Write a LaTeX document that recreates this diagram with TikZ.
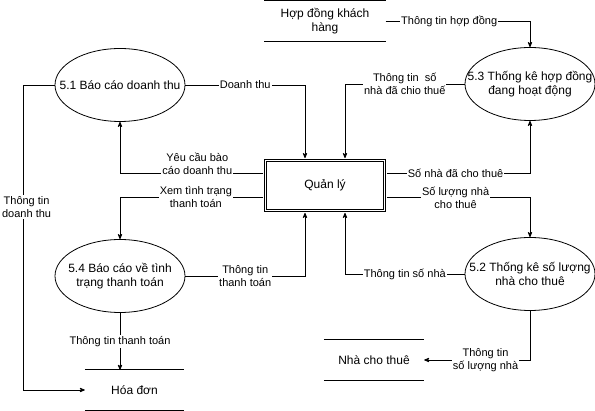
\documentclass[tikz,border=0pt]{standalone}
\usepackage{fontspec}
\setmainfont{Liberation Sans}
\usetikzlibrary{arrows,shapes.geometric}
\tikzstyle{proc} = [draw, thick, ellipse, minimum width=130pt, minimum height=73pt, inner sep=0pt]
\tikzstyle{ptext} = [align=center, font=\fontsize{12}{14}\selectfont]
\tikzstyle{store} = [minimum height=40pt, align=center, font=\fontsize{12}{14}\selectfont]
\tikzstyle{mgr} = [draw, thick, double, double distance=1.6pt, outer sep=2.4pt,
    minimum width=119pt, minimum height=50pt, font=\fontsize{12}{14}\selectfont]
\tikzstyle{lbl} = [fill=white, inner sep=1pt, align=center, font=\fontsize{11}{13}\selectfont]

\begin{document}
\begin{tikzpicture}[x=1pt, y=-1pt, >=stealth']
    \useasboundingbox (0,0) rectangle (595,411);
    \node [mgr] (qly) at (325,185.5) {Quản lý};
    \node [proc, label={[ptext]center:5.1 Báo cáo doanh thu}] (p51) at (120,85) {};
    \node [proc, below of=p51, node distance=191pt,
            label={[ptext]center:5.4 Báo cáo về tình\\trạng thanh toán}] (p54) {};
    \node [proc, label={[ptext]center:5.3 Thống kê hợp đồng\\đang hoạt động}] (p53) at (530,84) {};
    \node [proc, below of=p53, node distance=190pt,
            label={[ptext]center:5.2 Thống kê số lượng\\nhà cho thuê}] (p52) {};
    \node [store, minimum width=121pt] (hopdong) at (325,21) {Hợp đồng khách\\hàng};
    \node [store, minimum width=99pt] (hoadon) at (134.5,390) {Hóa đơn};
    \node [store, minimum width=100pt] (nhathue) at (374,360) {Nhà cho thuê};
    \foreach \s in {hopdong,hoadon,nhathue} {
        \draw [thick] (\s.north west) -- (\s.north east);
        \draw [thick] (\s.south west) -- (\s.south east);
    }
    \draw [->,thick] (p51.east) -| node [lbl,pos=0.25] {Doanh thu} ([xshift=-20pt]qly.north);
    \draw [->,thick] (p53.west) -| node [lbl,pos=0.25] {Thông tin\ \ số\\nhà đã chio thuế} ([xshift=20pt]qly.north);
    \draw [->,thick] ([yshift=12pt]qly.west) -| node [lbl,pos=0.23,yshift=10pt] {Yêu cầu bào\\cáo doanh thu} (p51.south);
    \draw [->,thick] ([yshift=-12pt]qly.west) -| node [lbl,pos=0.235] {Xem tình trạng\\thanh toán} (p54.north);
    \draw [->,thick] ([yshift=12pt]qly.east) -| node [lbl,pos=0.24] {Số nhà đã cho thuê} (p53.south);
    \draw [->,thick] ([yshift=-12pt]qly.east) -| node [lbl,pos=0.24] {Số lượng nhà\\cho thuê} (p52.north);
    \draw [->,thick] (p54.east) -| node [lbl,pos=0.25] {Thông tin\\thanh toán} ([xshift=-20pt]qly.south);
    \draw [->,thick] (p52.west) -| node [lbl,pos=0.25] {Thông tin số nhà} ([xshift=20pt]qly.south);
    \draw [->,thick] (p54.south) -- node [lbl] {Thông tin thanh toán} (p54.south |- hoadon.north);
    \draw [->,thick] (p51.west) -- ++(-31,0) |- node [lbl,pos=0.2,xshift=3pt] {Thông tin\\doanh thu} (hoadon.west);
    \draw [->,thick] (p52.south) |- node [lbl,pos=0.71] {Thông tin\\số lượng nhà} (nhathue.east);
    \draw [->,thick] (hopdong.east) -| node [lbl,pos=0.22] {Thông tin hợp đồng} (p53.north);
\end{tikzpicture}
\end{document}
